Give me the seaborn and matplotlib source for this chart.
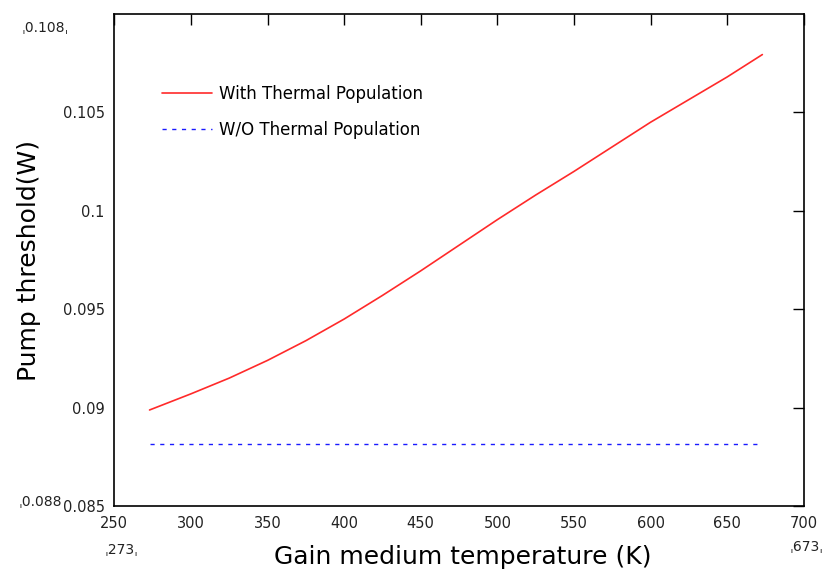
import numpy as np
import pandas as pd
import matplotlib
matplotlib.use("Agg")
import matplotlib.pyplot as plt
import seaborn as sns

# values
temp_k = [273, 300, 325, 350, 375, 400, 425, 450, 475, 500, 525, 550, 575, 600, 625, 650, 673]
with_thermal = [0.08988, 0.09070, 0.09150, 0.09240, 0.09340, 0.09450, 0.09570, 0.09695,
                0.09825, 0.09955, 0.10080, 0.10200, 0.10325, 0.10450, 0.10565, 0.10680, 0.10794]
wo_thermal = [0.08817] * len(temp_k)

x_ticks = [250, 300, 350, 400, 450, 500, 550, 600, 650, 700]
y_ticks = [0.085, 0.09, 0.095, 0.1, 0.105]
y_tick_labels = ["0.085", "0.09", "0.095", "0.1", "0.105"]

sns.set_style("white")
plt.rcParams["font.family"] = ["DejaVu Sans"]

df = pd.DataFrame({"T": temp_k, "with": with_thermal, "wo": wo_thermal})

fig = plt.figure(figsize=(8.29, 5.77), dpi=100)
ax = fig.add_axes([0.1379, 0.123, 0.8316, 0.8527])

sns.lineplot(data=df, x="T", y="with", ax=ax, color="#ff2a2a", lw=1.2,
             label="With Thermal Population")
sns.lineplot(data=df, x="T", y="wo", ax=ax, color="#1a1aff", lw=1.0,
             dashes=False, label="W/O Thermal Population")
ax.lines[1].set_dashes((3, 4))

ax.set_xlim(250, 700)
ax.set_ylim(0.085, 0.110)
ax.set_xticks(x_ticks)
ax.set_xticklabels([str(v) for v in x_ticks])
ax.set_yticks(y_ticks)
ax.set_yticklabels(y_tick_labels)
ax.tick_params(direction="in", length=8, width=1, top=True, right=True,
               labelsize=10.5, labelcolor="#222222", color="black")
ax.tick_params(axis="x", pad=7)
ax.tick_params(axis="y", pad=7)
for s in ax.spines.values():
    s.set_color("black")
    s.set_linewidth(1.2)

ax.set_xlabel("Gain medium temperature (K)", fontsize=18, color="black")
ax.set_ylabel("Pump threshold(W)", fontsize=18, color="black")
ax.xaxis.set_label_coords(0.505, -0.08)
ax.yaxis.set_label_coords(-0.106, 0.5)

leg = ax.legend(loc="upper left", bbox_to_anchor=(0.1954, 0.8527),
                bbox_transform=fig.transFigure, frameon=False, fontsize=12,
                handlelength=3.0, handletextpad=0.45, labelspacing=1.1,
                borderpad=0, borderaxespad=0)
for t in leg.get_texts():
    t.set_color("black")

# mathcad range markers
fig.text(45 / 829, 1 - 28 / 577, "ˌ0.108ˌ", fontsize=10, color="#222222", ha="center", va="center")
fig.text(40 / 829, 1 - 502 / 577, "ˌ0.088", fontsize=10, color="#222222", ha="center", va="center")
fig.text(122 / 829, 1 - 550 / 577, "ˌ273ˌ", fontsize=10, color="#222222", ha="center", va="center")
fig.text(807 / 829, 1 - 547 / 577, "ˌ673ˌ", fontsize=10, color="#222222", ha="center", va="center")

fig.savefig("out.png", dpi=100)
